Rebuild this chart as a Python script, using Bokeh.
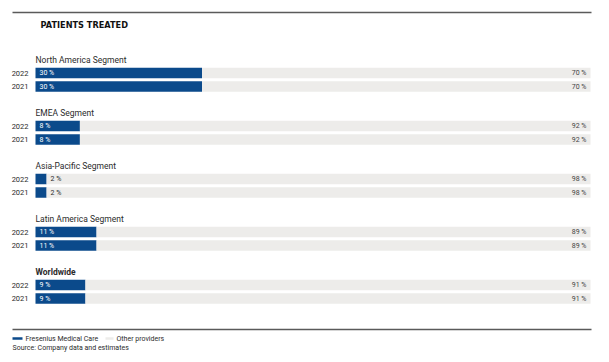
from bokeh.plotting import figure
from bokeh.models import Range1d, ColumnDataSource
from bokeh.embed import file_html
from bokeh.resources import INLINE
from bokeh.core.properties import value

# ---------------- data ----------------
segments = ["North America Segment", "EMEA Segment", "Asia-Pacific Segment",
            "Latin America Segment", "Worldwide"]
years = ["2022", "2021"]
fmc_2022 = [30, 8, 2, 11, 9]
fmc_2021 = [30, 8, 2, 11, 9]
title_text = "PATIENTS TREATED"
legend_labels = ["Fresenius Medical Care", "Other providers"]
source_text = "Source: Company data and estimates"

# ---------------- styling / layout ----------------
BLUE = "#0b4a8b"
GREY = "#edecea"
DARK = "#2b2b2b"
LINE = "#5a5a5a"
FONT = "Roboto"

W, H = 600, 354
BAR_L, BAR_R = 35, 590          # canvas px where 0 % and 100 % sit
ppu = (BAR_R - BAR_L) / 100.0


def px(xpix):
    return (xpix - BAR_L) / ppu


GROUP_Y0 = 59
GROUP_STEP = 53
ROW_OFF = [13.5, 27]
BAR_H = 10.5

p = figure(width=W, height=H, x_range=Range1d(px(0), px(W)), y_range=Range1d(H, 0),
           output_backend="svg", toolbar_location=None, min_border=0,
           x_axis_location=None, y_axis_location=None)
p.grid.visible = False
p.outline_line_color = None
p.background_fill_color = "white"
p.border_fill_color = "white"

# build table
rows = dict(y=[], fmc=[], other=[], year=[], lab_in=[], lab_out=[], lab_other=[], x_out=[])
for i, seg in enumerate(segments):
    gy = GROUP_Y0 + GROUP_STEP * i
    for j, (yr, vals) in enumerate(zip(years, [fmc_2022, fmc_2021])):
        v = vals[i]
        rows["y"].append(gy + ROW_OFF[j])
        rows["fmc"].append(v)
        rows["other"].append(100 - v)
        rows["year"].append(yr)
        inside = v >= 5
        rows["lab_in"].append(f"{v} %" if inside else "")
        rows["lab_out"].append("" if inside else f"{v} %")
        rows["lab_other"].append(f"{100 - v} %")
        rows["x_out"].append(v)
src = ColumnDataSource(rows)

p.hbar(y="y", left=0, right="fmc", height=BAR_H, fill_color=BLUE, line_color=None, source=src)
p.hbar(y="y", left="fmc", right=100, height=BAR_H, fill_color=GREY, line_color=None, source=src)

p.text(x=0, y="y", text="year", source=src, x_offset=-7, text_align="right",
       text_baseline="middle", text_font=value(FONT), text_font_size="7.5px", text_color=DARK)
p.text(x=0, y="y", text="lab_in", source=src, x_offset=4, text_align="left",
       text_baseline="middle", text_font=value(FONT), text_font_size="7px", text_color="white")
p.text(x="x_out", y="y", text="lab_out", source=src, x_offset=4, text_align="left",
       text_baseline="middle", text_font=value(FONT), text_font_size="7px", text_color=DARK)
p.text(x=100, y="y", text="lab_other", source=src, x_offset=-4, text_align="right",
       text_baseline="middle", text_font=value(FONT), text_font_size="7px", text_color="#444444")

# group labels
gsrc = ColumnDataSource(dict(
    x=[0] * len(segments),
    y=[GROUP_Y0 + GROUP_STEP * i for i in range(len(segments))],
    t=segments,
    st=["bold" if s == "Worldwide" else "normal" for s in segments],
))
p.text(x="x", y="y", text="t", source=gsrc, text_align="left", text_baseline="middle",
       text_font=value(FONT), text_font_size="8.5px", text_font_style="st", text_color=DARK)

# title
p.text(x=[0], y=[24], text=[title_text], x_offset=5, text_align="left", text_baseline="middle",
       text_font=value("DejaVu Sans"), text_font_size="8.2px", text_font_style="bold",
       text_color="#111111")

# rules
p.segment(x0=[px(12), px(12)], y0=[12, 329], x1=[px(591), px(591)], y1=[12, 329],
          line_color=LINE, line_width=1.5)

# legend
p.segment(x0=[px(12)], y0=[338], x1=[px(22)], y1=[338], line_color=BLUE, line_width=2.5)
p.segment(x0=[px(105)], y0=[338], x1=[px(113)], y1=[338], line_color=GREY, line_width=2.5)
p.text(x=[px(25), px(116)], y=[338, 338], text=legend_labels, text_align="left",
       text_baseline="middle", text_font=value(FONT), text_font_size="7px", text_color=DARK)
p.text(x=[px(12)], y=[347], text=[source_text], text_align="left", text_baseline="middle",
       text_font=value(FONT), text_font_size="7px", text_color=DARK)

open("out.html", "w").write(file_html(p, INLINE))
